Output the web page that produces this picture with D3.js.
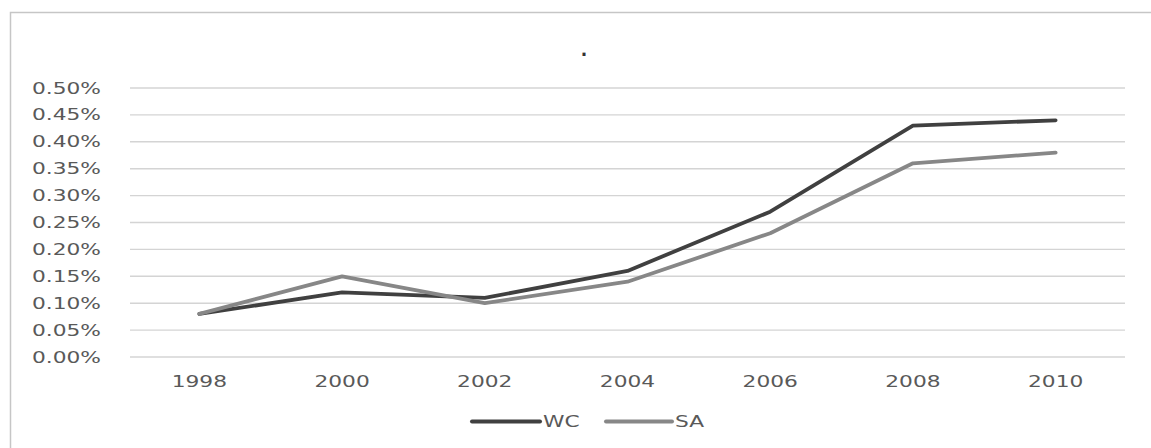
<!DOCTYPE html>
<html>
<head>
<meta charset="utf-8">
<script src="https://cdn.jsdelivr.net/npm/d3@7"></script>
<style>
  html, body { margin: 0; padding: 0; background: #fff; }
  svg { display: block; }
  text { font-family: "DejaVu Sans", sans-serif; fill: #595959; }
</style>
</head>
<body>
<svg id="chart" width="1151" height="448"></svg>
<script>
const years = ["1998", "2000", "2002", "2004", "2006", "2008", "2010"];
const wcValues = [0.0008, 0.0012, 0.0011, 0.0016, 0.0027, 0.0043, 0.0044];
const saValues = [0.0008, 0.0015, 0.0010, 0.0014, 0.0023, 0.0036, 0.0038];
const yTicks = [0, 0.0005, 0.001, 0.0015, 0.002, 0.0025, 0.003, 0.0035, 0.004, 0.0045, 0.005];
const seriesNames = ["WC", "SA"];
const seriesColors = ["#404040", "#878787"];

const svg = d3.select("#chart");
const stretch = 1.45;

// outer border
svg.append("path")
  .attr("d", "M10.5,448 L10.5,12.5 L1151,12.5")
  .attr("fill", "none").attr("stroke", "#c6c6c6").attr("stroke-width", 1.5);

const plotX0 = 130, plotX1 = 1125;
const x = d3.scalePoint().domain(years).range([128, 1127]).padding(0.5);
const y = d3.scaleLinear().domain([0, 0.005]).range([357, 88]);

// grid
svg.append("g").selectAll("line").data(yTicks).join("line")
  .attr("x1", plotX0).attr("x2", plotX1)
  .attr("y1", d => y(d)).attr("y2", d => y(d))
  .attr("stroke", "#d4d4d4").attr("stroke-width", 1.4);

// y labels
const fmt = d3.format(".2%");
svg.append("g").selectAll("text").data(yTicks).join("text")
  .attr("transform", d => `translate(101,${y(d) + 5.5}) scale(${stretch},1)`)
  .attr("text-anchor", "end")
  .attr("font-size", 15)
  .text(d => fmt(d));

// x labels
svg.append("g").selectAll("text").data(years).join("text")
  .attr("transform", d => `translate(${x(d)},387) scale(${stretch},1)`)
  .attr("text-anchor", "middle")
  .attr("font-size", 15)
  .text(d => d);

// lines
const line = d3.line().x((d, i) => x(years[i])).y(d => y(d));
[wcValues, saValues].forEach((vals, k) => {
  svg.append("path").datum(vals)
    .attr("d", line)
    .attr("fill", "none")
    .attr("stroke", seriesColors[k])
    .attr("stroke-width", 3.8)
    .attr("stroke-linejoin", "round")
    .attr("stroke-linecap", "round");
});

// title (dot)
svg.append("text")
  .attr("x", 584).attr("y", 56)
  .attr("text-anchor", "middle")
  .attr("font-size", 17)
  .attr("font-weight", "bold")
  .style("fill", "#333")
  .text(".");

// legend
const legendItems = [
  { name: seriesNames[0], color: seriesColors[0], x0: 472, x1: 540 },
  { name: seriesNames[1], color: seriesColors[1], x0: 606, x1: 672 }
];
const lg = svg.append("g");
legendItems.forEach(it => {
  lg.append("line")
    .attr("x1", it.x0).attr("x2", it.x1)
    .attr("y1", 421.5).attr("y2", 421.5)
    .attr("stroke", it.color).attr("stroke-width", 4)
    .attr("stroke-linecap", "round");
  lg.append("text")
    .attr("transform", `translate(${it.x1 + 3},427) scale(${stretch},1)`)
    .attr("font-size", 15)
    .text(it.name);
});
</script>
</body>
</html>
